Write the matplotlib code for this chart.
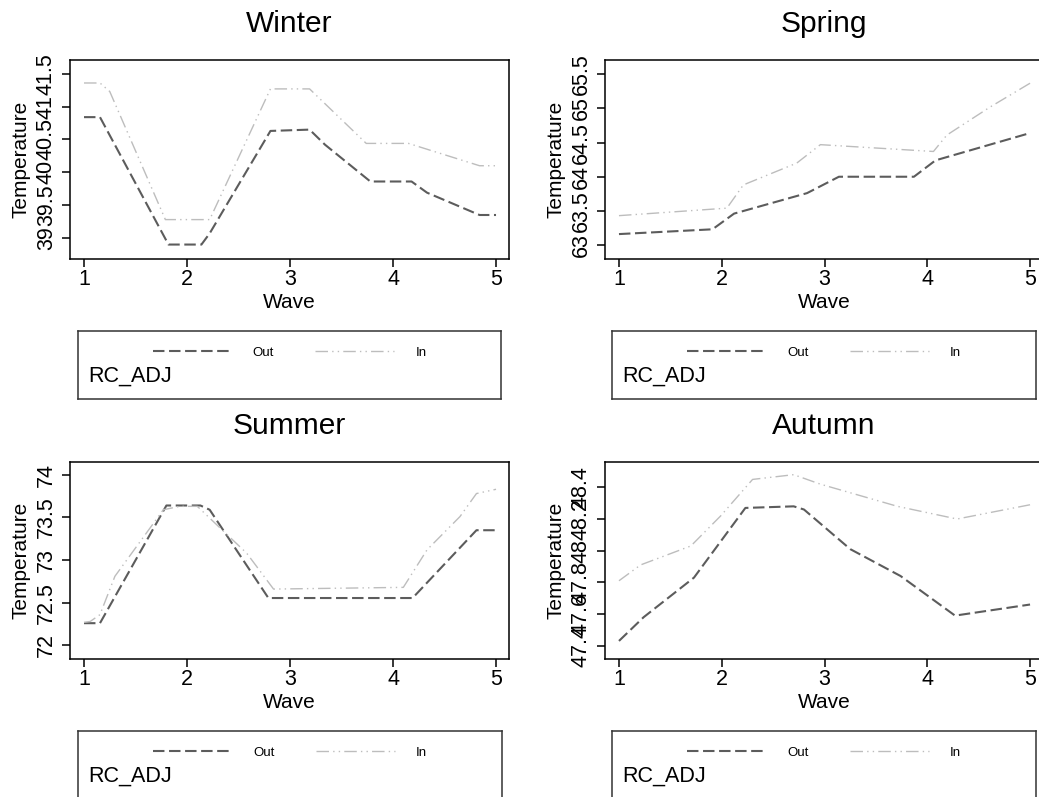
import matplotlib
matplotlib.use("Agg")
import matplotlib.pyplot as plt
from matplotlib.ticker import FormatStrFormatter

plt.rcParams['font.family'] = ['Liberation Sans', 'DejaVu Sans']

waves = [1, 2, 3, 4, 5]
seasons = ["Winter", "Spring", "Summer", "Autumn"]
series_names = ["Out", "In"]

# smoothed temperature curves, per season
winter_out_x = [1, 1.155, 1.82, 2.14, 2.22, 2.81, 3.19, 3.34, 3.78, 4.18, 4.33, 4.84, 5]
winter_out = [40.84, 40.84, 38.90, 38.90, 39.07, 40.63, 40.65, 40.42, 39.86, 39.86, 39.69, 39.35, 39.35]
winter_in_x = [1, 1.155, 1.25, 1.79, 2.22, 2.81, 3.19, 3.74, 4.15, 4.84, 5]
winter_in = [41.36, 41.36, 41.23, 39.28, 39.28, 41.27, 41.27, 40.44, 40.44, 40.10, 40.10]

spring_out_x = [1, 1.91, 2.12, 2.83, 3.14, 3.87, 4.08, 5]
spring_out = [63.16, 63.23, 63.46, 63.76, 64.0, 64.0, 64.24, 64.64]
spring_in_x = [1, 2.05, 2.21, 2.73, 2.96, 4.06, 4.19, 4.61, 5]
spring_in = [63.43, 63.54, 63.88, 64.20, 64.47, 64.37, 64.61, 65.02, 65.37]

summer_out_x = [1, 1.155, 1.80, 2.13, 2.22, 2.79, 4.19, 4.81, 5]
summer_out = [72.26, 72.26, 73.64, 73.64, 73.59, 72.555, 72.555, 73.35, 73.35]
summer_in_x = [1, 1.06, 1.155, 1.30, 1.77, 1.93, 2.10, 2.58, 2.84, 4.10, 4.33, 4.65, 4.81, 5]
summer_in = [72.27, 72.28, 72.36, 72.81, 73.59, 73.63, 73.63, 73.08, 72.66, 72.68, 73.12, 73.51, 73.78, 73.83]

autumn_out_x = [1, 1.24, 1.73, 2.23, 2.70, 2.80, 3.25, 3.74, 4.27, 5]
autumn_out = [47.43, 47.58, 47.83, 48.27, 48.28, 48.26, 48.01, 47.84, 47.59, 47.66]
autumn_in_x = [1, 1.21, 1.70, 1.99, 2.30, 2.70, 2.96, 3.71, 4.29, 5]
autumn_in = [47.81, 47.91, 48.03, 48.22, 48.45, 48.48, 48.42, 48.28, 48.20, 48.29]

winter_ticks = [39, 39.5, 40, 40.5, 41, 41.5]
spring_ticks = [63, 63.5, 64, 64.5, 65, 65.5]
summer_ticks = [72, 72.5, 73, 73.5, 74]
autumn_ticks = [47.4, 47.6, 47.8, 48, 48.2, 48.4]

W, H = 1039, 797
fig = plt.figure(figsize=(W / 100, H / 100), dpi=100)


def box(left, top, right, bottom):
    # pixel box -> figure fraction rect
    return [left / W, 1 - bottom / H, (right - left) / W, (bottom - top) / H]


panels = [
    ("Winter", winter_out_x, winter_out, winter_in_x, winter_in, winter_ticks, (38.68, 41.71),
     box(70, 60, 509, 259), box(78, 331, 501, 399)),
    ("Spring", spring_out_x, spring_out, spring_in_x, spring_in, spring_ticks, (62.795, 65.71),
     box(605, 60, 1043, 259), box(612, 331, 1036, 399)),
    ("Summer", summer_out_x, summer_out, summer_in_x, summer_in, summer_ticks, (71.84, 74.15),
     box(70, 462, 509, 659), box(78, 731, 502, 799)),
    ("Autumn", autumn_out_x, autumn_out, autumn_in_x, autumn_in, autumn_ticks, (47.316, 48.56),
     box(605, 462, 1043, 659), box(612, 731, 1036, 799)),
]

for title, ox, oy, ix, iy, yt, ylim, rect, leg_rect in panels:
    ax = fig.add_axes(rect)
    l1, = ax.plot(ox, oy, color="#5c5c5c", lw=1.5, dashes=(5.5, 2.2), label=series_names[0])
    l2, = ax.plot(ix, iy, color="#bdbdbd", lw=1.0, dashes=(9, 3, 1, 3, 1, 3), label=series_names[1])
    ax.set_xlim(0.864, 5.126)
    ax.set_ylim(*ylim)
    ax.set_xticks(waves)
    ax.set_yticks(yt)
    ax.yaxis.set_major_formatter(FormatStrFormatter('%g'))
    ax.tick_params(length=6, width=1.1, labelsize=15.5, pad=1.5)
    ax.tick_params(axis='y', labelrotation=90, pad=3.5)
    for lab in ax.get_yticklabels():
        lab.set_va('center')
    for s in ax.spines.values():
        s.set_linewidth(1.1)
    ax.set_xlabel("Wave", fontsize=15, labelpad=2)
    ax.set_ylabel("Temperature", fontsize=15, labelpad=4)
    ax.set_title(title, fontsize=21.5, pad=20)

    # legend box under each panel
    lax = fig.add_axes(leg_rect)
    lax.set_xticks([])
    lax.set_yticks([])
    for s in lax.spines.values():
        s.set_linewidth(1.1)
        s.set_color("#333333")
    lax.legend(handles=[l1, l2], loc='upper center', bbox_to_anchor=(0.5, 1.0), ncol=2,
               frameon=False, fontsize=9.5, handlelength=6, handletextpad=1.6,
               columnspacing=3.1, borderaxespad=0.9, borderpad=0.3)
    lax.text(10 / 424, 1 - 45 / 68, "RC_ADJ", transform=lax.transAxes, fontsize=15.5,
             ha='left', va='center')

fig.savefig('out.png', dpi=100)
